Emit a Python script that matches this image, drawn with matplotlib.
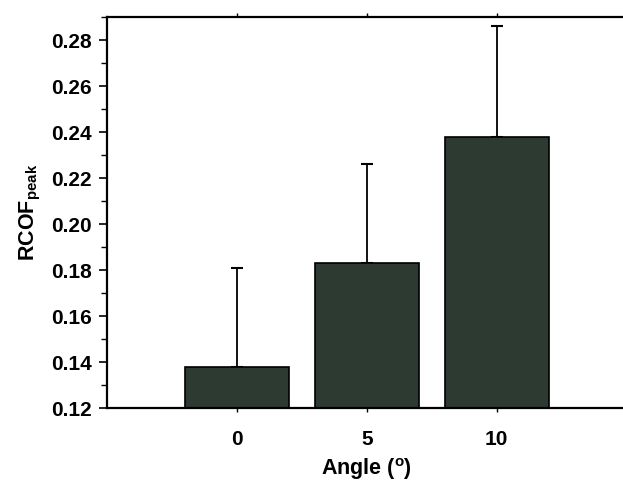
import matplotlib
matplotlib.use("Agg")
import matplotlib.pyplot as plt
from matplotlib.ticker import MultipleLocator, FixedLocator

plt.rcParams['font.family'] = ['Liberation Sans', 'DejaVu Sans']
plt.rcParams['font.weight'] = 'bold'
plt.rcParams['mathtext.fontset'] = 'custom'
plt.rcParams['mathtext.rm'] = 'Liberation Sans:bold'
plt.rcParams['mathtext.it'] = 'Liberation Sans:bold'
plt.rcParams['mathtext.bf'] = 'Liberation Sans:bold'

angles = ['0', '5', '10']
rcof_peak = [0.138, 0.183, 0.238]
rcof_sd = [0.043, 0.043, 0.048]

fig = plt.figure(figsize=(6.23, 4.87), dpi=100)
ax = fig.add_axes([0.1718, 0.1622, 0.8338, 0.8028])

pos = list(range(len(angles)))
ax.bar(pos, rcof_peak, width=0.8, color='#2c3a31', edgecolor='black',
       linewidth=1.2, zorder=2)
ax.errorbar(pos, rcof_peak, yerr=[[0] * len(rcof_sd), rcof_sd], fmt='none',
            ecolor='black', elinewidth=1.3, capsize=4.3, capthick=1.5, zorder=1)

ax.set_xlim(-1, 3)
ax.set_ylim(0.12, 0.29)
ax.set_xticks(pos)
ax.set_xticklabels(angles)
ax.yaxis.set_major_locator(FixedLocator([0.12, 0.14, 0.16, 0.18, 0.20, 0.22,
                                         0.24, 0.26, 0.28]))
ax.yaxis.set_minor_locator(MultipleLocator(0.01))
ax.set_yticklabels(['%.2f' % v for v in ax.get_yticks()])

ax.tick_params(axis='y', which='major', direction='out', length=6, width=1.2,
               labelsize=15, pad=5)
ax.tick_params(axis='y', which='minor', direction='out', length=4, width=1.0)
ax.tick_params(axis='x', which='major', direction='out', length=3, width=1.0,
               labelsize=15, pad=13, top=True)

for s in ax.spines.values():
    s.set_linewidth(1.6)

ax.set_ylabel('RCOF$_{\\mathrm{peak}}$', fontsize=15.5, fontweight='bold',
              labelpad=6)
ax.set_xlabel('Angle ($^{\\mathrm{o}}$)', fontsize=15.5, fontweight='bold',
              labelpad=5)

fig.savefig('out.png', dpi=100)
